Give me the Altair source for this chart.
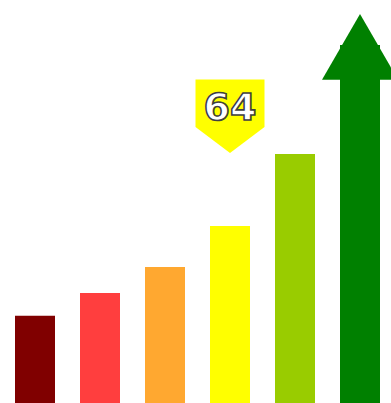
import altair as alt
import pandas as pd

categories = ["A", "B", "C", "D", "E", "F"]
values = [31.5, 39.8, 49.2, 64, 90, 129.4]
colors = ["#800000", "#FF3E3E", "#FFA830", "#FFFF00", "#99CC00", "#008000"]
highlight_index = 3
y_max = 145.7

df = pd.DataFrame({"cat": categories, "value": values, "color": colors})
arrow_df = df.iloc[[len(df) - 1]]
hl_df = df.iloc[[highlight_index]].assign(label=lambda d: d["value"].round(0).astype(int).astype(str))

x_enc = alt.X("cat:N", sort=categories, axis=None,
              scale=alt.Scale(paddingInner=25 / 65, paddingOuter=0.2, align=0.577))
y_enc = alt.Y("value:Q", axis=None, scale=alt.Scale(domain=[0, y_max], nice=False, zero=True))

bars = alt.Chart(df).mark_bar().encode(
    x=x_enc, y=y_enc,
    color=alt.Color("color:N", scale=None, legend=None),
)

arrow = alt.Chart(arrow_df).mark_point(
    shape="M0,-0.82L1,0.91L-1,0.91Z", size=5776, filled=True, opacity=1, color="#008000"
).encode(x=x_enc, y=y_enc)

callout = alt.Chart(hl_df).mark_point(
    shape="M-1,-1L1,-1L1,0.377L0,1.13L-1,0.377Z", size=4761, filled=True, opacity=1,
    color="#FFFF00", yOffset=-112
).encode(x=x_enc, y=y_enc)

label = alt.Chart(hl_df).mark_text(
    font="DejaVu Sans", fontWeight="bold", fontSize=38, baseline="alphabetic",
    align="center", dy=-106, fill="white", stroke="#404040", strokeWidth=1.6
).encode(x=x_enc, y=y_enc, text="label:N")

chart = alt.layer(bars, arrow, callout, label).properties(
    width=391, height=403,
    autosize=alt.AutoSizeParams(type="none"),
    padding=0,
).configure_view(stroke=None)

chart.save("out.html", embed_options={"renderer": "svg", "actions": False})
